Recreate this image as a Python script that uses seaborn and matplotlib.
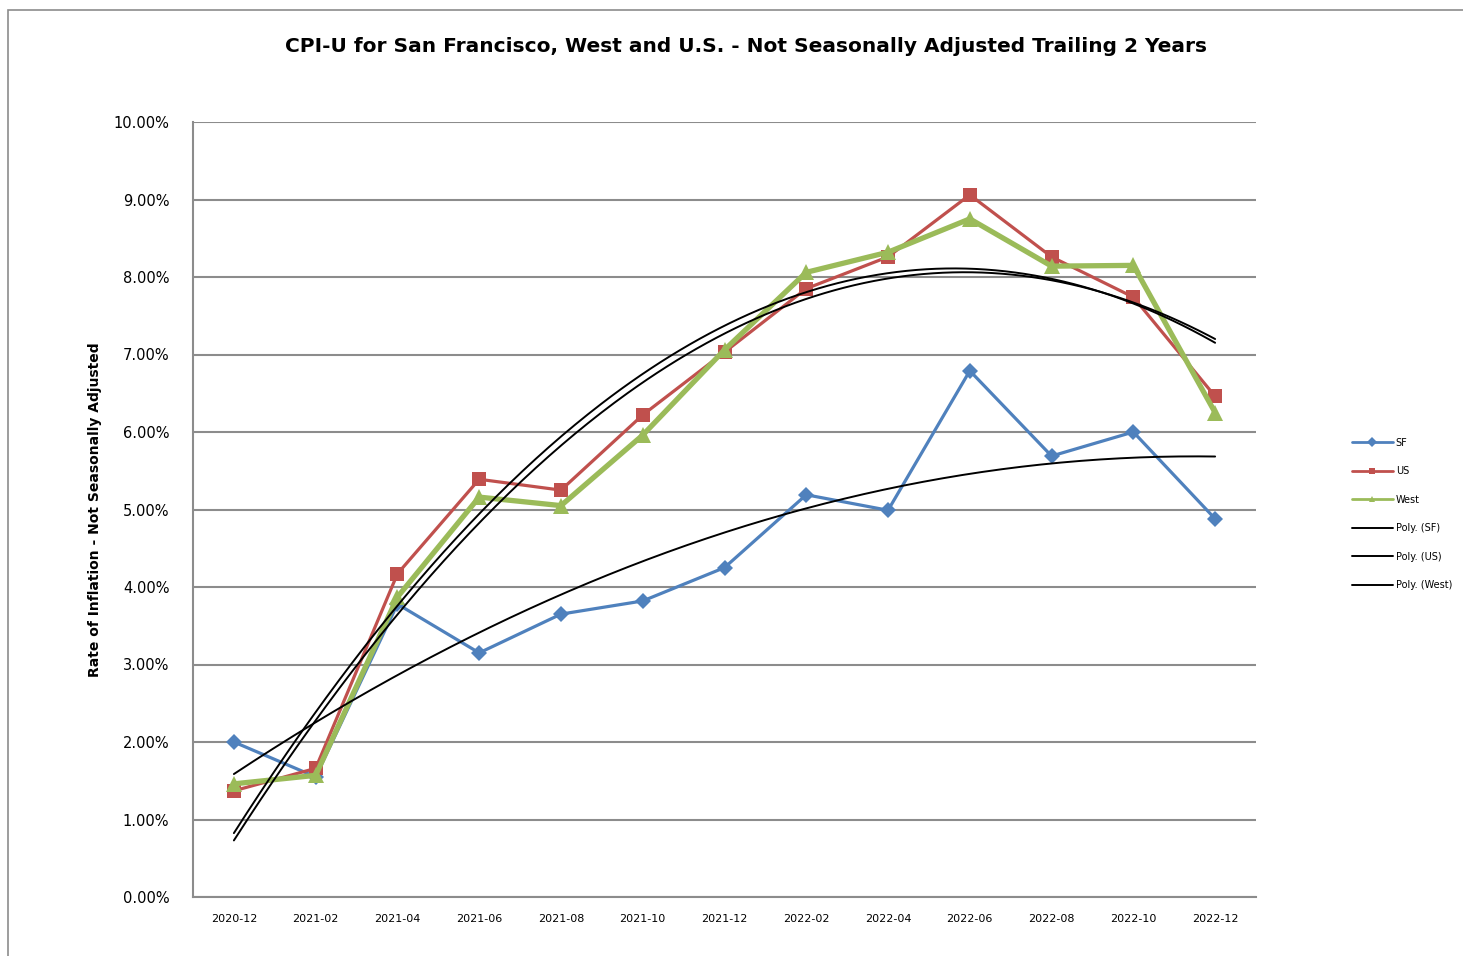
import numpy as np
import pandas as pd
import matplotlib
matplotlib.use("Agg")
import matplotlib.pyplot as plt
import seaborn as sns
from matplotlib.patches import Rectangle
from matplotlib.lines import Line2D

# Data (percent)
months = ['2020-12', '2021-02', '2021-04', '2021-06', '2021-08', '2021-10', '2021-12',
          '2022-02', '2022-04', '2022-06', '2022-08', '2022-10', '2022-12']
sf = [2.00, 1.55, 3.78, 3.15, 3.65, 3.82, 4.25, 5.19, 4.99, 6.79, 5.69, 6.00, 4.88]
us = [1.37, 1.66, 4.17, 5.39, 5.25, 6.22, 7.03, 7.85, 8.26, 9.06, 8.26, 7.74, 6.46]
west = [1.46, 1.57, 3.87, 5.16, 5.05, 5.96, 7.06, 8.06, 8.32, 8.75, 8.14, 8.15, 6.25]

series_names = ['SF', 'US', 'West']
colors = {'SF': '#4F81BD', 'US': '#C0504D', 'West': '#9BBB59'}
markers = {'SF': 'D', 'US': 's', 'West': '^'}
sizes = {'SF': 8, 'US': 10, 'West': 12}
widths = {'SF': 2.3, 'US': 2.3, 'West': 3.8}

x = np.arange(len(months))
df = pd.DataFrame({'x': x, 'SF': sf, 'US': us, 'West': west})
long_df = df.melt(id_vars='x', var_name='series', value_name='rate')

sns.set_style("white")
plt.rcParams['font.family'] = ['DejaVu Sans']
plt.rcParams['text.color'] = 'black'
plt.rcParams['axes.labelcolor'] = 'black'
plt.rcParams['xtick.color'] = 'black'
plt.rcParams['ytick.color'] = 'black'

fig = plt.figure(figsize=(14.63, 9.56), dpi=100)
ax = fig.add_axes([193 / 1463, 59 / 956, 1063 / 1463, 775 / 956])

# outer chart border (Excel chart area)
fig.patches.append(Rectangle((8 / 1463, -0.01), 1.2, (946 / 956) + 0.01,
                             transform=fig.transFigure, fill=False,
                             edgecolor='#8c8c8c', linewidth=1.2))

# data series
for name in series_names:
    sub = long_df[long_df['series'] == name]
    sns.lineplot(data=sub, x='x', y='rate', ax=ax, color=colors[name],
                 marker=markers[name], markersize=sizes[name], markeredgewidth=0,
                 linewidth=widths[name], zorder=3, legend=False)

# polynomial (order 2) trend lines
xx = np.linspace(0, len(months) - 1, 300)
for name in series_names:
    coef = np.polyfit(x, df[name], 2)
    ax.plot(xx, np.polyval(coef, xx), color='black', linewidth=1.4, zorder=4)

ax.set_xlim(-0.5, len(months) - 0.5)
ax.set_ylim(0, 10)
ax.set_yticks(np.arange(0, 10.01, 1))
ax.set_yticklabels([f"{v:.2f}%" for v in np.arange(0, 10.01, 1)], fontsize=10.5)
ax.set_xticks(x)
ax.set_xticklabels(months, fontsize=8)
ax.tick_params(axis='both', length=0)
ax.tick_params(axis='x', pad=12)
ax.tick_params(axis='y', pad=17)

ax.grid(axis='y', color='#8c8c8c', linewidth=1.5)
ax.set_axisbelow(True)
for s in ['top', 'right']:
    ax.spines[s].set_visible(False)
for s in ['left', 'bottom']:
    ax.spines[s].set_color('#8c8c8c')
    ax.spines[s].set_linewidth(1.5)

ax.set_xlabel('')
ax.set_ylabel('Rate of Inflation - Not Seasonally Adjusted', fontsize=10,
              fontweight='bold', labelpad=8)

fig.text(746 / 1463, 1 - 47 / 956,
         'CPI-U for San Francisco, West and U.S. - Not Seasonally Adjusted Trailing 2 Years',
         ha='center', va='center', fontsize=14.5, fontweight='bold')

handles = []
for name in series_names:
    handles.append(Line2D([], [], color=colors[name], marker=markers[name],
                          markersize=5, linewidth=2, markeredgewidth=0))
for name in series_names:
    handles.append(Line2D([], [], color='black', linewidth=1.4))
labels = series_names + [f'Poly. ({n})' for n in series_names]
fig.legend(handles, labels, loc='center left', bbox_to_anchor=(1352 / 1463, 1 - 514 / 956),
           frameon=False, fontsize=7, handlelength=4.2, labelspacing=1.9,
           handletextpad=0.3, borderaxespad=0, borderpad=0)

fig.savefig('out.png', dpi=100)
